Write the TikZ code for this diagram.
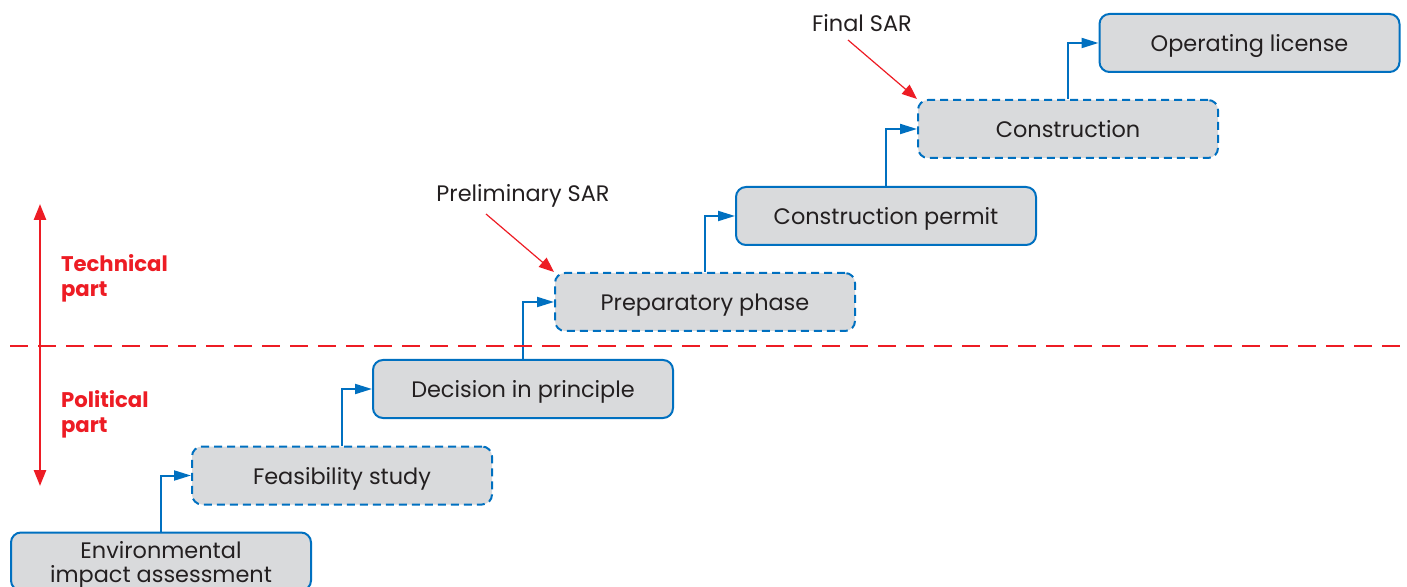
\documentclass[tikz,border=0pt]{standalone}
\usepackage{fontspec}
\setmainfont{Poppins}
\usepackage{tikz}
\usetikzlibrary{arrows.meta}

\definecolor{stepblue}{RGB}{0,112,192}
\definecolor{stepgray}{RGB}{217,218,220}
\definecolor{partred}{RGB}{237,28,36}
\definecolor{inkgray}{RGB}{35,31,32}

\begin{document}
\begin{tikzpicture}[x=0.5pt, y=-0.5pt,
    stage/.style={draw=stepblue, fill=stepgray, line width=1pt, rounded corners=5pt,
        minimum width=150pt, minimum height=29pt, inner sep=0pt, text=inkgray, text depth=0pt,
        font=\fontsize{11.2}{12}\selectfont, align=center},
    tentative/.style={stage, dash pattern=on 4pt off 2.5pt},
    flow/.style={draw=stepblue, line width=1pt, -{Triangle[length=8.5pt, width=5pt]}},
    sar/.style={draw=partred, line width=0.6pt, -{Triangle[length=7.5pt, width=6pt]}},
    note/.style={font=\fontsize{11.2}{13}\selectfont, text=inkgray},
    part/.style={font=\bfseries\fontsize{10.6}{12.5}\selectfont, text=partred, align=left, anchor=west}]
                \useasboundingbox (0,0) rectangle (1407,587);
                % stages
                \node [stage] (eia) at (161,561.5) {Environmental\\impact assessment};
                \node [tentative] (feas) at (342,475.5) {Feasibility study};
                \node [stage] (decision) at (523,389) {Decision in principle};
                \node [tentative] (prep) at (705,302) {Preparatory phase};
                \node [stage] (permit) at (886,216) {Construction permit};
                \node [tentative] (constr) at (1068,129) {Construction};
                \node [stage] (license) at (1249.5,43) {Operating license};
                \draw [flow] (eia) |- (feas);
                \draw [flow] (feas) |- (decision);
                \draw [flow] (decision) |- (prep);
                \draw [flow] (prep) |- (permit);
                \draw [flow] (permit) |- (constr);
                \draw [flow] (constr) |- (license);
                % safety analysis reports
                \node [note] (prelim) at (523,196) {Preliminary SAR};
                \node [note] (final) at (862,23) {Final SAR};
                \coordinate (prelimfoot) at (486,214);
                \coordinate (finalfoot) at (848,40);
                \draw [sar] (prelimfoot) -- (prep.north west);
                \draw [sar] (finalfoot) -- (constr.north west);
                % political / technical split
                \coordinate (splitL) at (10,346);
                \coordinate (splitR) at (1400,346);
                \coordinate (parttop) at (40,204);
                \coordinate (partbot) at (40,486);
                \draw [partred, line width=0.8pt, dash pattern=on 9pt off 5pt] (splitL) -- (splitR);
                \draw [partred, line width=1.3pt, {Triangle[length=8pt, width=6pt]}-{Triangle[length=8pt, width=6pt]}] (partbot) -- (parttop);
                \node [part] (tech) at (54,278) {Technical\\part};
                \node [part] (pol) at (54,414) {Political\\part};
            \end{tikzpicture}
\end{document}
